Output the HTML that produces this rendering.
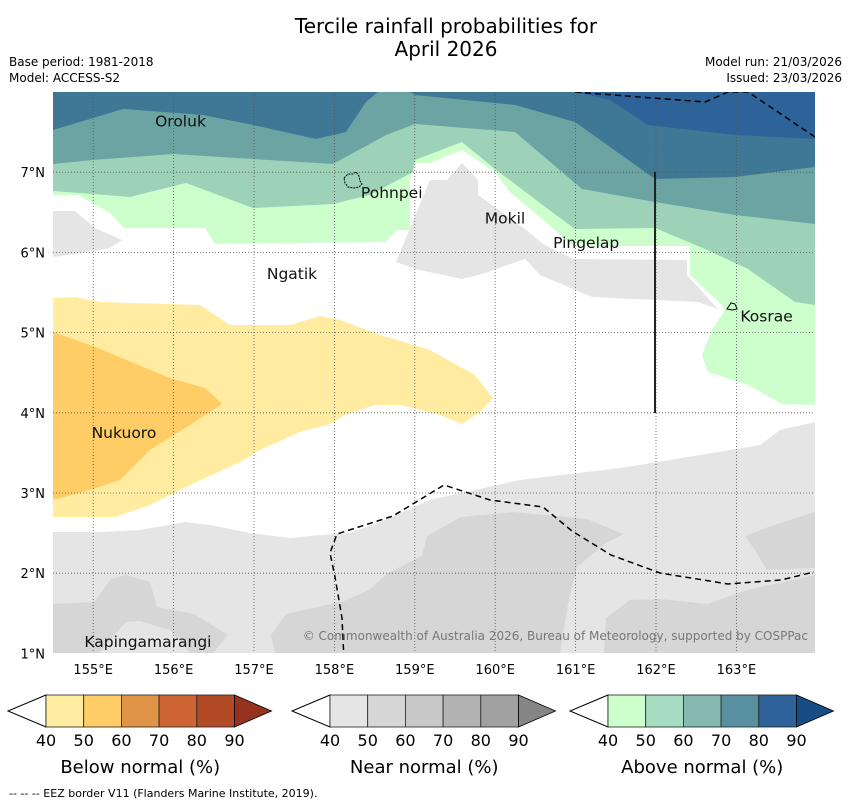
<!DOCTYPE html>
<html><head><meta charset="utf-8"><style>
body{margin:0;background:#fff;font-family:"Liberation Sans","DejaVu Sans",sans-serif}
</style></head><body>
<svg id="s" width="850" height="804" viewBox="0 0 850 804" xmlns="http://www.w3.org/2000/svg" font-family="DejaVu Sans, Liberation Sans, sans-serif">
<text x="446" y="33" font-size="20" text-anchor="middle">Tercile rainfall probabilities for</text>
<text x="446" y="56" font-size="20" text-anchor="middle">April 2026</text>
<text x="9" y="66" font-size="12">Base period: 1981-2018</text>
<text x="9" y="82" font-size="12">Model: ACCESS-S2</text>
<text x="842" y="66" font-size="12" text-anchor="end">Model run: 21/03/2026</text>
<text x="842" y="82" font-size="12" text-anchor="end">Issued: 23/03/2026</text>
<defs><clipPath id="mc"><rect x="53" y="92" width="762" height="561"/></clipPath></defs>
<g id="map" clip-path="url(#mc)"></g>
<g id="ax"></g>
<g id="cb"></g>
<text x="9" y="797" font-size="11">--  --  -- EEZ border V11 (Flanders Marine Institute, 2019).</text>
</svg>
<script>
const NS="http://www.w3.org/2000/svg";
const lonTicks=[155,156,157,158,159,160,161,162,163];
const latTicks=[1,2,3,4,5,6,7];
const places=["Oroluk","Pohnpei","Mokil","Pingelap","Ngatik","Kosrae","Nukuoro","Kapingamarangi"];
const placeLon=[155.77,158.33,159.87,160.72,157.16,163.05,154.98,154.89];
const placeLat=[7.63,6.74,6.42,6.12,5.73,5.2,3.75,1.14];
const cbTicks=[40,50,60,70,80,90];
function X(lon){return 53+(lon-154.5)*80.4}
function Y(lat){return 92+(8-lat)*80.2}
function el(t,a,p){const e=document.createElementNS(NS,t);for(const k in a)e.setAttribute(k,a[k]);(p||document.getElementById('map')).appendChild(e);return e}
const regions=[
["#ccffcc","above-40-50","53,92 815,92 815,405 782,404 748,385 708,372 702,355 712,330 725,310 722,305 690,275 690,246 605,246 570,244 548,224 510,192 495,172 462,150 430,163 415,163 410,180 410,230 397,230 385,242 215,244 205,228 124,228 110,213 78,195 53,195"],
["#9dd2b8","above-50-60","53,92 815,92 815,305 795,302 748,269 705,249 655,228 575,229 548,209 495,169 462,142 415,160 413,172 370,195 333,204 253,208 186,183 130,197 93,194 53,191"],
["#6ca4a4","above-60-70","53,92 815,92 815,224 735,215 655,202 582,189 515,132 415,124 386,135 333,164 253,159 173,154 93,160 53,164"],
["#3f7895","above-70-80","53,92 378,92 366,102 346,132 316,139 253,125 203,115 123,109 53,130"],
["#3f7895","above-70-80-east","410,92 815,92 815,167 735,177 655,179 575,122 515,105 415,95"],
["#2e6399","above-80-90","575,92 815,92 815,139 735,135 648,125 610,100"],
["#e5e5e5","near-40-50-north","396,262 430,180 447,180 462,163 478,180 478,195 525,229 543,244 573,259 687,260 687,275 718,309 698,302 592,297 540,275 525,259 482,274 462,279 415,269"],
["#e5e5e5","near-40-50-west","53,211 75,211 95,228 122,240 110,248 75,254 53,257"],
["#ffeca0","below-40-50","53,298 75,297 100,302 200,305 230,325 290,325 320,316 340,320 380,335 430,350 475,375 493,398 480,412 462,424 440,415 400,405 375,405 345,415 330,424 300,432 260,450 240,462 190,485 150,505 115,517 53,517"],
["#ffcc66","below-50-60","53,332 90,345 170,378 205,388 222,404 190,425 150,450 120,480 90,490 53,500"],
["#e5e5e5","near-40-50-south","53,532 100,532 140,530 185,522 210,525 250,533 290,538 320,535 350,533 380,522 430,500 520,480 620,468 700,455 760,445 780,430 815,422 815,653 53,653"],
["#d6d6d6","near-50-60-sw","53,604 94,602 111,579 126,575 150,582 157,607 194,614 228,635 213,653 190,653 170,630 140,621 126,622 110,640 100,653 53,653"],
["#d6d6d6","near-50-60-central","271,635 286,614 344,601 369,590 388,573 422,556 427,536 461,517 514,512 587,519 623,534 606,543 577,567 568,604 560,653 275,653"],
["#d6d6d6","near-50-60-se","604,653 606,618 630,600 660,599 708,604 747,590 815,575 815,653"],
["#d6d6d6","near-50-60-east","745,536 771,526 815,512 815,568 767,570 755,550"]
];
for(const r of regions){const p=el('polygon',{points:r[2],fill:r[0]});

}
for(const l of lonTicks){const g=el('line',{x1:X(l),x2:X(l),y1:92,y2:653,stroke:'#555','stroke-width':0.8,'stroke-dasharray':'1,2'});

}
for(const l of latTicks){const g=el('line',{x1:53,x2:815,y1:Y(l),y2:Y(l),stroke:'#555','stroke-width':0.8,'stroke-dasharray':'1,2'});

}
const e1=el('polyline',{points:"344,660 342,618 335,577 330,553 337,534 393,516 444,485 490,500 543,507 572,531 611,555 660,573 728,584 781,580 814,572",fill:'none',stroke:'#000','stroke-width':1.5,'stroke-dasharray':'6,4'});


const e2=el('polyline',{points:"575,92 705,102 728,92 748,92 775,110 815,137",fill:'none',stroke:'#000','stroke-width':1.5,'stroke-dasharray':'6,4'});


const vl=el('line',{x1:655,x2:655,y1:172,y2:413,stroke:'#222','stroke-width':2});


const ip=el('path',{d:"M344,178 l4,-4 l5,0 l3,-2 l3,4 l1,5 l2,3 l-3,3 l-5,1 l-6,-1 l-3,-4 z",fill:'none',stroke:'#000','stroke-width':1,'stroke-dasharray':'2,1'});


const ik=el('path',{d:"M727,309 l4,-6 l4,1 l2,5 l-5,1 z",fill:'none',stroke:'#000','stroke-width':1});


places.forEach((n,i)=>{const t=el('text',{x:X(placeLon[i]),y:Y(placeLat[i])+5,'font-size':15.5,fill:'#111'});t.textContent=n;

});
const cp=el('text',{x:808,y:640,'font-size':12,fill:'#777','text-anchor':'end'});cp.textContent="© Commonwealth of Australia 2026, Bureau of Meteorology, supported by COSPPac";


const ax=document.getElementById('ax');
for(const l of lonTicks){const t=el('text',{x:X(l),y:674,'font-size':13,'text-anchor':'middle'},ax);t.textContent=l+'°E';

}
for(const l of latTicks){const t=el('text',{x:45,y:Y(l)+5,'font-size':13,'text-anchor':'end'},ax);t.textContent=l+'°N';

}
const cbs=[
{x:46,title:"Below normal (%)",cols:["#ffeca0","#ffcc66","#e09448","#cf6534","#b34a26","#973220"],name:'below'},
{x:330,title:"Near normal (%)",cols:["#e5e5e5","#d6d6d6","#c8c8c8","#b3b3b3","#a0a0a0","#858585"],name:'near'},
{x:608,title:"Above normal (%)",cols:["#ccffcc","#a6dcc0","#84b8b0","#5890a0","#2e6399","#164d85"],name:'above'}];
const cb=document.getElementById('cb');
for(const c of cbs){const y0=695,h=32,w=37.7,x0=c.x;
const g=el('g',{},cb);


el('polygon',{points:`${x0},${y0} ${x0-38},${y0+h/2} ${x0},${y0+h}`,fill:'#fff',stroke:'#000','stroke-width':1},g);
for(let i=0;i<5;i++)el('rect',{x:x0+i*w,y:y0,width:w,height:h,fill:c.cols[i],stroke:'#222','stroke-width':0.8},g);
const xe=x0+5*w;
el('polygon',{points:`${xe},${y0} ${xe+37},${y0+h/2} ${xe},${y0+h}`,fill:c.cols[5],stroke:'#000','stroke-width':0.8},g);
cbTicks.forEach((v,i)=>{const t=el('text',{x:x0+i*w,y:746,'font-size':16,'text-anchor':'middle'},g);t.textContent=v;});
const t=el('text',{x:x0+2.5*w,y:773,'font-size':18,'text-anchor':'middle'},g);t.textContent=c.title;}
</script>
</body></html>
